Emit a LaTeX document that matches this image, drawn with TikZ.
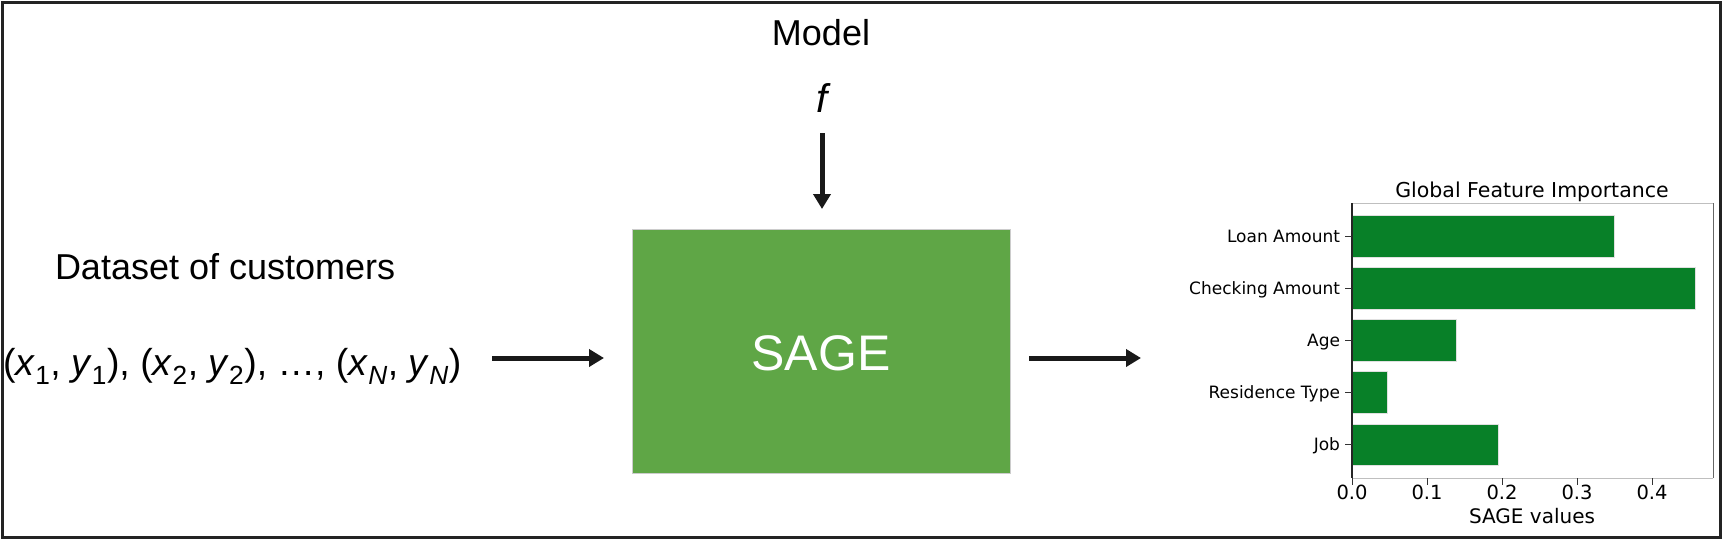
\documentclass[tikz,border=0pt]{standalone}
\usepackage{fontspec}
\setmainfont{Liberation Sans}
\newfontfamily\dejavu{DejaVu Sans}
\usetikzlibrary{arrows.meta}
\definecolor{boxgreen}{RGB}{95,166,70}
\definecolor{bargreen}{RGB}{8,128,40}
\definecolor{framegray}{RGB}{35,35,35}
\tikzset{
  txt/.style={inner sep=0pt, outer sep=0pt, anchor=base},
  bigtxt/.style={txt, font=\fontsize{36}{40}\selectfont},
  flowarrow/.style={line width=5pt, draw=black!90, -{Triangle[length=15pt,width=17pt]}},
  charttxt/.style={inner sep=0pt, outer sep=0pt, font=\dejavu\fontsize{20}{22}\selectfont},
  ylab/.style={inner sep=0pt, outer sep=0pt, anchor=base east, font=\dejavu\fontsize{17}{19}\selectfont},
  xtick/.style={inner sep=0pt, outer sep=0pt, anchor=base, font=\dejavu\fontsize{19.5}{21}\selectfont},
  bar/.style={fill=bargreen, draw=black!12, line width=0.8pt},
  tickmark/.style={draw=black!80, line width=1pt},
}
\begin{document}
\begin{tikzpicture}[x=1pt,y=-1pt]
\useasboundingbox (0,0) rectangle (1725,542);
% outer frame
\draw[framegray, line width=3pt] (2,2) rectangle (1720,537);

% model
\node[bigtxt] (model) at (821,45) {Model};
\node[txt, font=\fontsize{40}{44}\selectfont\itshape] (f) at (822,112) {f};
\coordinate (downS) at (822,133);
\coordinate (downE) at (822,209);
\draw[flowarrow] (downS) -- (downE);

% SAGE box
\node[fill=boxgreen, draw=black!20, line width=0.6pt, minimum width=378pt, minimum height=244pt, inner sep=0pt, anchor=north west] (sage) at (632,229) {};
\node[txt, text=white, font=\fontsize{50}{54}\selectfont] (sagetxt) at (821,370) {SAGE};

% dataset
\node[bigtxt, anchor=base west] (dataset) at (55,279) {Dataset of customers};
\node[txt, anchor=base west, font=\fontsize{37.5}{42}\selectfont] (formula) at (3,375)
  {(\textit{x}\textsubscript{1}, \textit{y}\textsubscript{1}), (\textit{x}\textsubscript{2}, \textit{y}\textsubscript{2}), \ldots, (\textit{x}\textsubscript{\textit{N}}, \textit{y}\textsubscript{\textit{N}})};

\coordinate (inS) at (492,358);
\coordinate (inE) at (604,358);
\draw[flowarrow] (inS) -- (inE);
\coordinate (outS) at (1029,358);
\coordinate (outE) at (1141,358);
\draw[flowarrow] (outS) -- (outE);

% chart
\draw[black!25, line width=1pt] (1352,203) -- (1713,203);
\draw[black!25, line width=1pt] (1352,478) -- (1713,478);
\draw[black!60, line width=1pt] (1713,203) -- (1713,478);

\fill[bar] (1352,215.5) rectangle (1614,257.1);
\fill[bar] (1352,267.6) rectangle (1695,309.2);
\fill[bar] (1352,319.7) rectangle (1456,361.3);
\fill[bar] (1352,371.8) rectangle (1387,413.4);
\fill[bar] (1352,423.9) rectangle (1498,465.5);
\draw[black!85, line width=1.2pt] (1352,203) -- (1352,478);

\foreach \yc in {236.3,288.4,340.5,392.6,444.7} \draw[tickmark] (1345,\yc) -- (1352,\yc);
\foreach \xc in {1352,1427,1502,1577,1652} \draw[tickmark] (\xc,478) -- (\xc,485);

\node[charttxt, anchor=base, font=\dejavu\fontsize{20.5}{22}\selectfont] (title) at (1532,197) {Global Feature Importance};
\node[ylab] (l1) at (1340,242.5) {Loan Amount};
\node[ylab] (l2) at (1340,294.6) {Checking Amount};
\node[ylab] (l3) at (1340,346.7) {Age};
\node[ylab] (l4) at (1340,398.8) {Residence Type};
\node[ylab] (l5) at (1340,450.9) {Job};

\node[xtick] (t0) at (1352,499) {0.0};
\node[xtick] (t1) at (1427,499) {0.1};
\node[xtick] (t2) at (1502,499) {0.2};
\node[xtick] (t3) at (1577,499) {0.3};
\node[xtick] (t4) at (1652,499) {0.4};
\node[charttxt, anchor=base] (xlabel) at (1532,523) {SAGE values};
\end{tikzpicture}
\end{document}
